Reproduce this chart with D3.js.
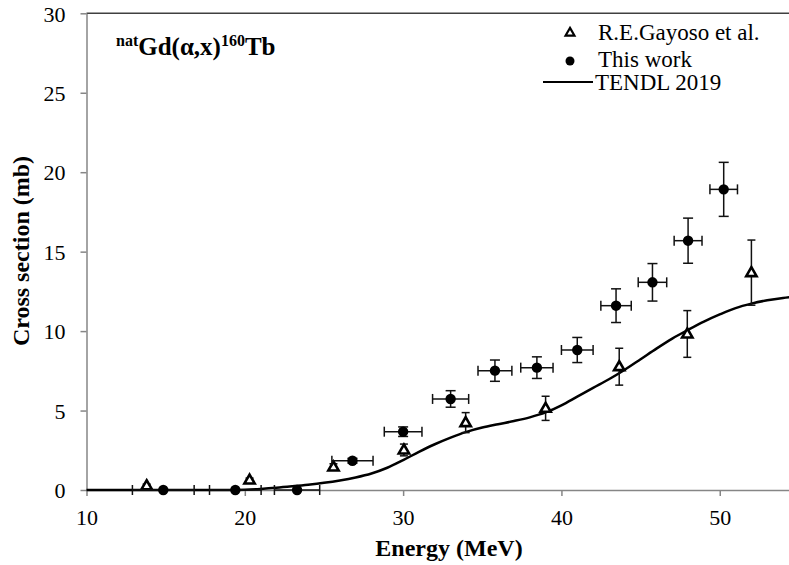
<!DOCTYPE html>
<html>
<head>
<meta charset="utf-8">
<script src="https://cdn.jsdelivr.net/npm/d3@7"></script>
<style>
  body { margin: 0; background: #fff; }
  text { font-family: "Liberation Serif", "Times New Roman", serif; fill: #000; }
  .axis text { font-size: 22px; font-family: "Liberation Serif", "Times New Roman", serif; }
  .axis path, .axis line { stroke: #868686; stroke-width: 1.5px; }
</style>
</head>
<body>
<div id="chart"></div>
<script>
// TENDL 2019 evaluation (energy in MeV, cross section in mb)
const tendlEnergy = [10, 15, 19, 20, 21, 22, 23, 24, 25, 26, 27, 28, 29, 30, 31, 32, 33, 34, 35, 36, 37, 38, 39, 40, 41, 42, 43, 44, 45, 46, 47, 48, 49, 50, 51, 52, 53, 54, 55];
const tendlXS = [0, 0, 0, 0.02, 0.07, 0.14, 0.23, 0.33, 0.45, 0.6, 0.79, 1.04, 1.4, 1.88, 2.4, 2.88, 3.3, 3.66, 3.93, 4.14, 4.34, 4.57, 4.88, 5.33, 5.88, 6.43, 6.97, 7.57, 8.23, 8.9, 9.53, 10.08, 10.6, 11.05, 11.45, 11.73, 11.94, 12.09, 12.2];

// R.E.Gayoso et al.
const gayosoEnergy = [13.8, 20.3, 25.6, 30.05, 33.95, 39.0, 43.65, 47.95, 52.0];
const gayosoXS = [0.27, 0.63, 1.45, 2.52, 4.24, 5.14, 7.76, 9.82, 13.68];
const gayosoErr = [0.1, 0.12, 0.2, 0.37, 0.63, 0.76, 1.16, 1.47, 2.05];

// This work
const workEnergy = [14.85, 19.4, 23.3, 26.8, 30.0, 33.0, 35.8, 38.45, 41.0, 43.45, 45.75, 48.0, 50.25];
const workEnergyErr = [1.95, 1.63, 1.43, 1.3, 1.19, 1.14, 1.07, 1.02, 1.0, 0.96, 0.9, 0.88, 0.87];
const workXS = [0, 0, 0, 1.84, 3.67, 5.73, 7.51, 7.7, 8.81, 11.6, 13.07, 15.69, 18.92];
const workErr = [0, 0, 0, 0.15, 0.3, 0.52, 0.67, 0.68, 0.79, 1.06, 1.18, 1.42, 1.7];

const yTicks = [0, 5, 10, 15, 20, 25, 30];
const xTicks = [10, 20, 30, 40, 50];

const width = 789, height = 565;
const x = d3.scaleLinear().domain([10, 55]).range([86.5, 798.9]);
const y = d3.scaleLinear().domain([0, 30]).range([490, 13.3]);

const svg = d3.select("#chart").append("svg")
  .attr("width", width)
  .attr("height", height);

svg.append("rect").attr("width", width).attr("height", height).attr("fill", "#fff");

// top frame line
svg.append("line")
  .attr("x1", x(10)).attr("x2", width)
  .attr("y1", y(30)).attr("y2", y(30))
  .attr("stroke", "#404040").attr("stroke-width", 1.5);

// axes
svg.append("g")
  .attr("class", "axis")
  .attr("transform", `translate(${x(10)},0)`)
  .call(d3.axisLeft(y).tickValues(yTicks).tickSize(6).tickPadding(15).tickSizeOuter(0))
  .call(g => g.selectAll("text").attr("dy", "0.35em"));

svg.append("g")
  .attr("class", "axis")
  .attr("transform", `translate(0,${y(0)})`)
  .call(d3.axisBottom(x).tickValues(xTicks).tickSize(6).tickPadding(13).tickSizeOuter(0));

// axis titles
svg.append("text")
  .attr("x", 449).attr("y", 556)
  .attr("text-anchor", "middle")
  .attr("font-weight", "bold").attr("font-size", 24)
  .text("Energy (MeV)");

svg.append("text")
  .attr("transform", "translate(29,251) rotate(-90)")
  .attr("text-anchor", "middle")
  .attr("font-weight", "bold").attr("font-size", 24)
  .text("Cross section (mb)");

// reaction label
const title = svg.append("text")
  .attr("x", 116).attr("y", 55)
  .attr("font-weight", "bold").attr("font-size", 25);
title.append("tspan").attr("font-size", 16).attr("dy", -9).text("nat");
title.append("tspan").attr("dy", 9).text("Gd(α,x)");
title.append("tspan").attr("font-size", 16).attr("dy", -9).text("160");
title.append("tspan").attr("dy", 9).text("Tb");

// TENDL curve
const line = d3.line()
  .x((d, i) => x(tendlEnergy[i]))
  .y(d => y(d))
  .curve(d3.curveMonotoneX);

svg.append("path")
  .datum(tendlXS)
  .attr("d", line)
  .attr("fill", "none")
  .attr("stroke", "#000")
  .attr("stroke-width", 2.5);

const cap = 4;
const errColor = "#111";

// Gayoso error bars + triangles
const gayoso = svg.append("g");
gayosoEnergy.forEach((e, i) => {
  const cx = x(e);
  const y0 = y(gayosoXS[i] - gayosoErr[i]);
  const y1 = y(gayosoXS[i] + gayosoErr[i]);
  gayoso.append("line").attr("x1", cx).attr("x2", cx).attr("y1", y0).attr("y2", y1)
    .attr("stroke", errColor).attr("stroke-width", 1.5);
  [y0, y1].forEach(v => gayoso.append("line")
    .attr("x1", cx - cap).attr("x2", cx + cap).attr("y1", v).attr("y2", v)
    .attr("stroke", errColor).attr("stroke-width", 1.5));
});

const tri = d3.symbol().type(d3.symbolTriangle).size(46);
gayoso.selectAll("path.tri")
  .data(gayosoXS)
  .join("path")
  .attr("class", "tri")
  .attr("d", tri)
  .attr("transform", (d, i) => `translate(${x(gayosoEnergy[i])},${y(d) + 0.5})`)
  .attr("fill", "#fff")
  .attr("stroke", "#000")
  .attr("stroke-width", 2.6);

// This work error bars + circles
const work = svg.append("g");
workEnergy.forEach((e, i) => {
  const cy = y(workXS[i]);
  const cx = x(e);
  const x0 = x(e - workEnergyErr[i]);
  const x1 = x(e + workEnergyErr[i]);
  work.append("line").attr("x1", x0).attr("x2", x1).attr("y1", cy).attr("y2", cy)
    .attr("stroke", errColor).attr("stroke-width", 1.5);
  [x0, x1].forEach(v => work.append("line")
    .attr("x1", v).attr("x2", v).attr("y1", cy - cap - 1).attr("y2", cy + cap + 1)
    .attr("stroke", errColor).attr("stroke-width", 1.5));
  if (workErr[i] > 0) {
    const y0 = y(workXS[i] - workErr[i]);
    const y1 = y(workXS[i] + workErr[i]);
    work.append("line").attr("x1", cx).attr("x2", cx).attr("y1", y0).attr("y2", y1)
      .attr("stroke", errColor).attr("stroke-width", 1.5);
    [y0, y1].forEach(v => work.append("line")
      .attr("x1", cx - cap - 1).attr("x2", cx + cap + 1).attr("y1", v).attr("y2", v)
      .attr("stroke", errColor).attr("stroke-width", 1.5));
  }
});

work.selectAll("circle")
  .data(workXS)
  .join("circle")
  .attr("cx", (d, i) => x(workEnergy[i]))
  .attr("cy", d => y(d))
  .attr("r", 5.2)
  .attr("fill", "#000");

// legend
const legend = svg.append("g").attr("font-size", 23);
legend.append("path")
  .attr("d", d3.symbol().type(d3.symbolTriangle).size(34))
  .attr("transform", "translate(570,33)")
  .attr("fill", "#fff").attr("stroke", "#000").attr("stroke-width", 2.2);
legend.append("text").attr("x", 598).attr("y", 40).text("R.E.Gayoso et al.");
legend.append("circle").attr("cx", 570).attr("cy", 61).attr("r", 4.5).attr("fill", "#000");
legend.append("text").attr("x", 598).attr("y", 67).text("This work");
legend.append("line").attr("x1", 543).attr("x2", 593).attr("y1", 82).attr("y2", 82)
  .attr("stroke", "#000").attr("stroke-width", 2);
legend.append("text").attr("x", 595).attr("y", 90).text("TENDL 2019");
</script>
</body>
</html>
